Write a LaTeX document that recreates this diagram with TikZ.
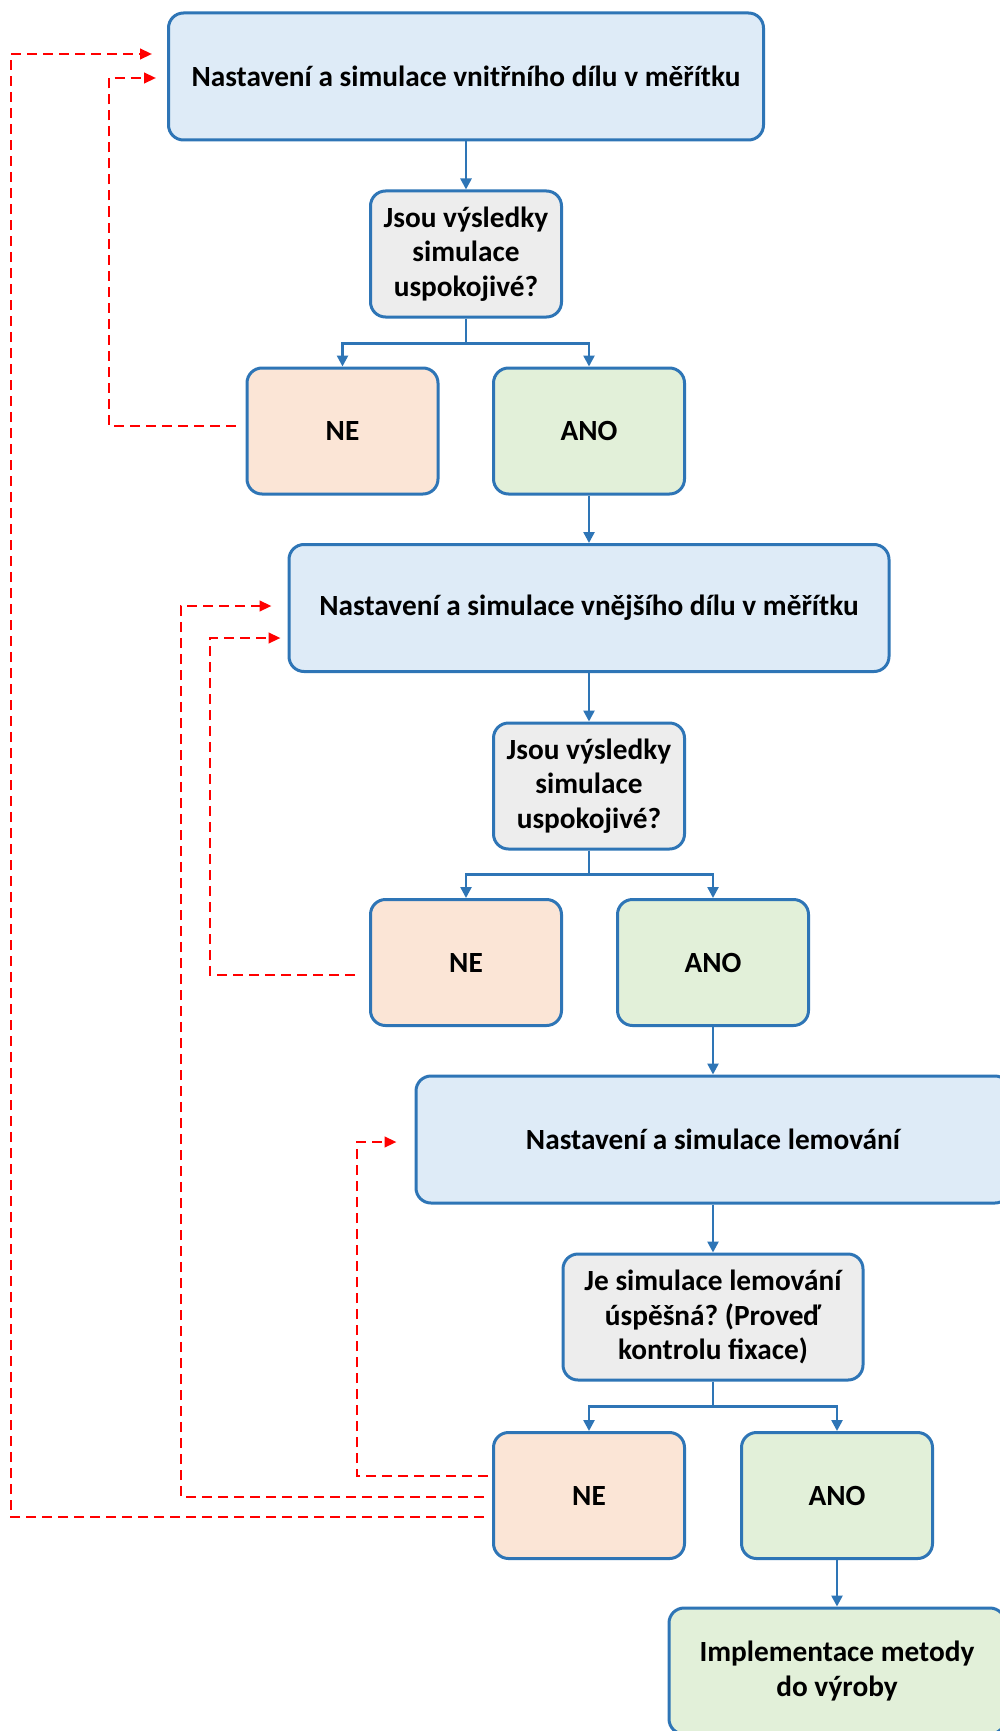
\documentclass[tikz,border=0pt]{standalone}
\usepackage{fontspec}
\setmainfont{Carlito}
\usetikzlibrary{arrows.meta,calc}
\frenchspacing
\definecolor{edgeblue}{HTML}{2E75B6}
\definecolor{stepfill}{HTML}{DEEBF7}
\definecolor{askfill}{HTML}{EDEDED}
\definecolor{nofill}{HTML}{FBE5D6}
\definecolor{yesfill}{HTML}{E2F0D9}
\definecolor{backred}{HTML}{FF0000}
\begin{document}
\begin{tikzpicture}[x=1pt,y=-1pt,
  card/.style={draw=edgeblue, line width=3pt, rounded corners=15pt, fill=#1,
    font=\fontsize{29.3}{34.5}\selectfont\bfseries, align=center, inner sep=0pt},
  stepbox/.style={card=stepfill, minimum width=595pt, minimum height=127pt},
  askbox/.style={card=askfill, minimum width=191pt, minimum height=126pt},
  nobox/.style={card=nofill, minimum width=191pt, minimum height=126pt},
  yesbox/.style={card=yesfill, minimum width=191pt, minimum height=126pt},
  flow/.style={draw=edgeblue, line width=2.5pt, -{Triangle[length=11pt,width=11pt]}},
  back/.style={draw=backred, line width=2.5pt, dash pattern=on 10pt off 6pt,
    -{Triangle[length=12pt,width=10.5pt]}}]
\useasboundingbox (0,0) rectangle (1000,1731);
\fill[white] (0,0) rectangle (1000,1731);
\clip (0,0) rectangle (1000,1731);

% stage 1: inner part
\node[stepbox] (box1) at (466,76.5) {Nastavení a simulace vnitřního dílu v měřítku};
\node[askbox] (ask1) at (466,254) {Jsou výsledky\\simulace\\uspokojivé?};
\node[nobox] (no1) at (342.5,431) {NE};
\node[yesbox] (yes1) at (589,431) {ANO};

% stage 2: outer part
\node[stepbox, minimum width=600pt] (box2) at (589,608) {Nastavení a simulace vnějšího dílu v měřítku};
\node[askbox] (ask2) at (589,786) {Jsou výsledky\\simulace\\uspokojivé?};
\node[nobox] (no2) at (466,962.5) {NE};
\node[yesbox] (yes2) at (713,962.5) {ANO};

% stage 3: hemming
\node[stepbox, minimum width=594pt] (box3) at (713,1139.5) {Nastavení a simulace lemování};
\node[askbox, minimum width=300pt] (ask3) at (713,1317) {Je simulace lemování\\úspěšná? (Proveď\\kontrolu fixace)};
\node[nobox] (no3) at (589,1495.5) {NE};
\node[yesbox] (yes3) at (837,1495.5) {ANO};
\node[card=yesfill, minimum width=336pt, minimum height=126pt] (impl) at (837,1671) {Implementace metody\\do výroby};

% main flow
\draw[flow] (box1.south) -- (ask1.north);
\draw[flow] (ask1.south) -- ++(0,25) -| (no1.north);
\draw[flow] (ask1.south) -- ++(0,25) -| (yes1.north);
\draw[flow] (yes1.south) -- (box2.north);
\draw[flow] (box2.south) -- (ask2.north);
\draw[flow] (ask2.south) -- ++(0,24) -| (no2.north);
\draw[flow] (ask2.south) -- ++(0,24) -| (yes2.north);
\draw[flow] (yes2.south) -- (box3.north);
\draw[flow] (box3.south) -- (ask3.north);
\draw[flow] (ask3.south) -- ++(0,25) -| (no3.north);
\draw[flow] (ask3.south) -- ++(0,25) -| (yes3.north);
\draw[flow] (yes3.south) -- (impl.north);

% feedback loops
\draw[back] ($(no1.west)+(-10,-5)$) -| (109,78) -- ($(box1.west)+(-11,1.5)$);
\draw[back] ($(no2.west)+(-14,12.5)$) -| (210,638) -- ($(box2.west)+(-7,30)$);
\draw[back] ($(no3.west)+(-4,-19.5)$) -| (357,1142) -- ($(box3.west)+(-18,2.5)$);
\draw[back] ($(no3.west)+(-8,1.5)$) -| (181,606) -- ($(box2.west)+(-16,-2)$);
\draw[back] ($(no3.west)+(-8,21.5)$) -| (11,54) -- ($(box1.west)+(-15,-22.5)$);
\end{tikzpicture}
\end{document}
